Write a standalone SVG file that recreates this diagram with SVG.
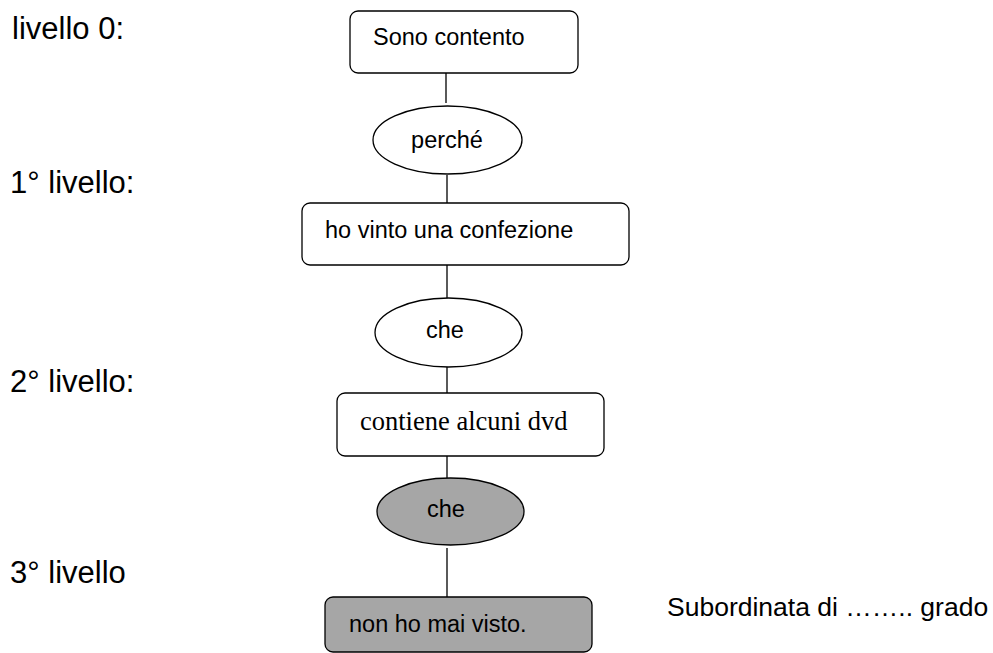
<svg xmlns="http://www.w3.org/2000/svg" width="993" height="653" viewBox="0 0 993 653">
<style>
.box{fill:#fff;stroke:#000;stroke-width:1.3}
.gray{fill:#a6a6a6}
.t{font-family:"Liberation Sans",Arial,sans-serif;font-size:23.5px;fill:#000}
.s{font-family:"Liberation Serif","Times New Roman",serif;font-size:26.5px;fill:#000}
.lbl{font-family:"Liberation Sans",Arial,sans-serif;font-size:31px;fill:#000}
.c{stroke:#000;stroke-width:1.3;fill:none}
</style>
<rect width="993" height="653" fill="#fff"/>
<g id="labels">
<text class="lbl" x="12" y="39">livello 0:</text>
<text class="lbl" x="10" y="193">1° livello:</text>
<text class="lbl" x="10" y="392">2° livello:</text>
<text class="lbl" x="10" y="583">3° livello</text>
</g>
<g id="connectors">
<line class="c" x1="446" y1="73" x2="446" y2="103"/>
<line class="c" x1="447" y1="175" x2="447" y2="203"/>
<line class="c" x1="447" y1="265" x2="447" y2="298"/>
<line class="c" x1="447" y1="367" x2="447" y2="393"/>
<line class="c" x1="447" y1="456" x2="447" y2="478"/>
<line class="c" x1="447" y1="548" x2="447" y2="597"/>
</g>
<g id="n1">
<rect class="box" x="350" y="11" width="228" height="62" rx="8"/>
<text class="t" x="373" y="45">Sono contento</text>
</g>
<g id="e1">
<ellipse class="box" cx="447.5" cy="140" rx="74.5" ry="34"/>
<text class="t" x="447" y="148" text-anchor="middle">perché</text>
</g>
<g id="n2">
<rect class="box" x="302" y="203" width="327" height="62" rx="8"/>
<text class="t" x="325" y="238">ho vinto una confezione</text>
</g>
<g id="e2">
<ellipse class="box" cx="448.5" cy="332.5" rx="73.5" ry="34.5"/>
<text class="t" x="445" y="338" text-anchor="middle">che</text>
</g>
<g id="n3">
<rect class="box" x="337" y="393" width="267" height="63" rx="8"/>
<text class="s" x="360" y="430">contiene alcuni dvd</text>
</g>
<g id="e3">
<ellipse class="box gray" cx="450.5" cy="511.5" rx="73.5" ry="33.5"/>
<text class="t" x="446" y="517" text-anchor="middle">che</text>
</g>
<g id="n4">
<rect class="box gray" x="325" y="597" width="267" height="55" rx="8"/>
<text class="t" x="349" y="632">non ho mai visto.</text>
</g>
<g id="note">
<text class="t" x="667" y="616" style="font-size:26.5px">Subordinata di …….. grado</text>
</g>
</svg>
